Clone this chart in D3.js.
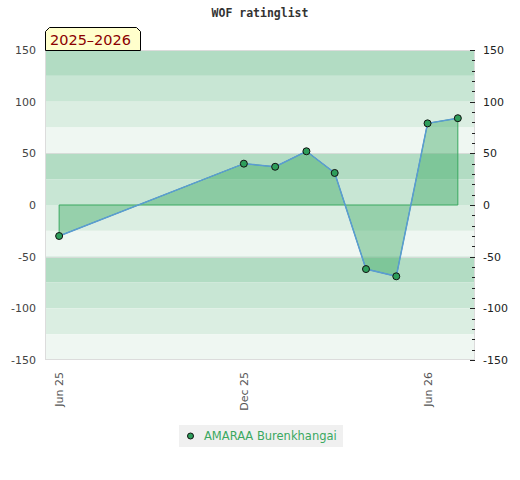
<!DOCTYPE html>
<html><head><meta charset="utf-8">
<script src="https://cdn.jsdelivr.net/npm/d3@7"></script>
<style>body{margin:0;background:#fff}svg{display:block}</style>
</head><body>
<script>
const title = "WOF ratinglist";
const season = "2025–2026";
const seriesName = "AMARAA Burenkhangai";
const dates = ["2025-06-01","2025-12-01","2026-01-01","2026-02-01","2026-03-01","2026-04-01","2026-05-01","2026-06-01","2026-07-01"];
const values = [-30, 40, 37, 52, 31, -62, -69, 79, 84];
const xTickDates = ["2025-06-01","2025-12-01","2026-06-01"];
const xTickLabels = ["Jun 25","Dec 25","Jun 26"];
const yTicks = [-150,-100,-50,0,50,100,150];
const bandColors = ["#b2dcc3","#c8e6d4","#dbeee2","#eff7f2"];

const W=520,H=480, L=45, R=475, T=50, B=360;
const parse = d3.utcParse("%Y-%m-%d");
const data = dates.map((d,i)=>({x:parse(d), y:values[i]}));
const x = d3.scaleUtc().domain([parse("2025-05-18"), parse("2026-07-18")]).range([L,R]);
const y = d3.scaleLinear().domain([-150,150]).range([B,T]);

const svg = d3.select("body").append("svg").attr("width",W).attr("height",H)
  .style("font-family","'DejaVu Sans', sans-serif");

// bands
const bandStarts = d3.range(150, -150, -25);
svg.append("g").selectAll("rect").data(bandStarts).join("rect")
  .attr("x",L).attr("width",R-L)
  .attr("y",d=>y(d)).attr("height",d=>y(d-25)-y(d))
  .attr("fill",(d,i)=>bandColors[i%4]);
// separators every 100
svg.append("g").selectAll("line").data([50,-50]).join("line")
  .attr("x1",L).attr("x2",R).attr("y1",d=>Math.round(y(d))+0.5).attr("y2",d=>Math.round(y(d))+0.5)
  .attr("stroke","#d6dcd8").attr("stroke-width",1);

// border
svg.append("rect").attr("x",L+0.5).attr("y",T+0.5).attr("width",R-L-1).attr("height",B-T-1)
  .attr("fill","none").attr("stroke","#dcdcdc");

// area polygon
const first=data[0], last=data[data.length-1];
const poly = data.map(d=>[x(d.x),y(d.y)]).concat([[x(last.x),y(0)],[x(first.x),y(0)]]);
svg.append("path").attr("d","M"+poly.map(p=>p.join(",")).join("L")+"Z")
  .attr("fill","rgba(56,168,96,0.42)").attr("stroke","#3aa860").attr("stroke-width",1);

// line
svg.append("path").datum(data)
  .attr("d",d3.line().x(d=>x(d.x)).y(d=>y(d.y)))
  .attr("fill","none").attr("stroke","#5b9bd5").attr("stroke-width",1.5);

// points
svg.append("g").selectAll("circle").data(data).join("circle")
  .attr("cx",d=>x(d.x)).attr("cy",d=>y(d.y)).attr("r",3.5)
  .attr("fill","#2e9e5b").attr("stroke","#111").attr("stroke-width",1);

const fmt = d => String(d);
// left axis labels
const leftAxis = d3.axisLeft(y).tickValues(yTicks).tickFormat(fmt).tickSize(0).tickPadding(9);
const gl = svg.append("g").attr("transform",`translate(${L},0)`).call(leftAxis);
gl.select(".domain").remove();
gl.selectAll("text").attr("font-size",11).attr("fill","#444").attr("font-family","'DejaVu Sans', sans-serif");

// right axis: minor ticks
const minor = d3.range(-150,151,10);
const gr = svg.append("g").attr("transform",`translate(${R},0)`);
gr.selectAll("line").data(minor).join("line")
  .attr("x1",d=>yTicks.includes(d)? -5 : -3).attr("x2",0)
  .attr("y1",d=>Math.round(y(d))+0.5).attr("y2",d=>Math.round(y(d))+0.5)
  .attr("stroke","#222").attr("stroke-width",1);
const rightAxis = d3.axisRight(y).tickValues(yTicks).tickFormat(fmt).tickSize(0).tickPadding(8);
const gr2 = svg.append("g").attr("transform",`translate(${R},0)`).call(rightAxis);
gr2.select(".domain").remove();
gr2.selectAll("text").attr("font-size",11).attr("fill","#222").attr("font-family","'DejaVu Sans', sans-serif");

// x axis
const xAxis = d3.axisBottom(x).tickValues(xTickDates.map(parse))
  .tickFormat((d,i)=>xTickLabels[i]).tickSize(0).tickPadding(0);
const gx = svg.append("g").attr("transform",`translate(0,${B})`).call(xAxis);
gx.select(".domain").remove();
gx.selectAll("text").attr("font-size",11).attr("fill","#555")
  .attr("font-family","'DejaVu Sans', sans-serif")
  .attr("text-anchor","end").attr("dy","0.35em")
  .attr("transform","translate(0,12) rotate(-90)").attr("x",0).attr("y",0);

// title
svg.append("text").attr("x",W/2).attr("y",17).attr("text-anchor","middle")
  .attr("font-family","'DejaVu Sans Mono', monospace").attr("font-weight","bold")
  .attr("font-size",11.5).attr("fill","#333").text(title);

// season label
const bx=45.5, by=27.5, bw=95, bh=23, c=4;
svg.append("path").attr("d",`M${bx},${by+bh}L${bx},${by+c}L${bx+c},${by}L${bx+bw-c},${by}L${bx+bw},${by+c}L${bx+bw},${by+bh}Z`)
  .attr("fill","#ffffcc").attr("stroke","#000").attr("stroke-width",1);
svg.append("text").attr("x",90.5).attr("y",by+17.5).attr("text-anchor","middle")
  .attr("font-size",14.5).attr("fill","#8b0000").text(season);

// legend
const lg = svg.append("g");
lg.append("rect").attr("x",179).attr("y",425).attr("width",164).attr("height",22).attr("fill","#f0f0f0");
lg.append("circle").attr("cx",190.5).attr("cy",436).attr("r",3).attr("fill","#2e9e5b").attr("stroke","#111");
lg.append("text").attr("x",204).attr("y",440).attr("font-size",11.5).attr("fill","#3aa860").text(seriesName);
</script>
</body></html>
